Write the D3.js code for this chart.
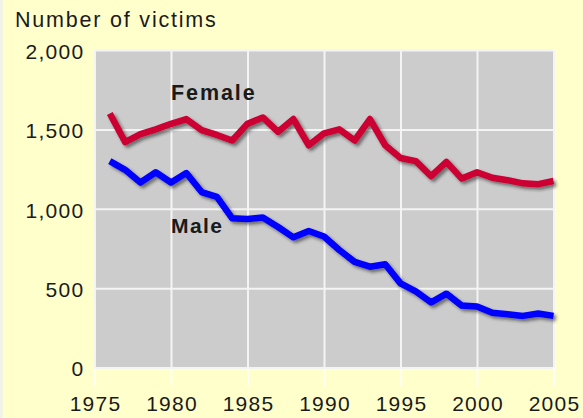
<!DOCTYPE html>
<html>
<head>
<meta charset="utf-8">
<script src="https://cdn.jsdelivr.net/npm/d3@7"></script>
<style>
html,body{margin:0;padding:0;background:#FFFFCC;}
svg{display:block;}
text{font-family:"Liberation Sans",Arial,Helvetica,sans-serif;fill:#1a1a1a;}
</style>
</head>
<body>
<svg id="chart" width="583" height="418"></svg>
<script>
const years = d3.range(1976, 2006);
const female = [1600,1420,1470,1500,1535,1565,1495,1465,1430,1535,1575,1485,1565,1400,1475,1500,1430,1565,1400,1320,1300,1205,1295,1190,1230,1195,1180,1160,1155,1175];
const male = [1300,1245,1165,1230,1165,1225,1105,1075,940,935,945,885,820,860,825,740,665,635,650,530,480,410,465,390,385,345,335,325,340,325];
const xTicks = [1975,1980,1985,1990,1995,2000,2005];
const yTicks = [0,500,1000,1500,2000];
const seriesNames = ["Female","Male"];
const seriesColors = ["#CC0033","#0000FF"];
const title = "Number of victims";

const svg = d3.select("#chart");
const W = 583, H = 418;
svg.append("rect").attr("width", W).attr("height", H).attr("fill", "#FFFFCC");
svg.append("rect").attr("x",0).attr("y",0).attr("width",3).attr("height",H).attr("fill","#F2F2E6");

const x = d3.scaleLinear().domain([1975, 2005]).range([94.5, 553.5]);
const y = d3.scaleLinear().domain([0, 2000]).range([367.5, 50]);

const defs = svg.append("defs");
const f = defs.append("filter").attr("id","shadow").attr("x","-10%").attr("y","-10%").attr("width","120%").attr("height","130%");
f.append("feDropShadow").attr("dx",2.5).attr("dy",2.5).attr("stdDeviation",1.4)
  .attr("flood-color","#222").attr("flood-opacity",0.55);

// plot background
svg.append("rect").attr("x", x(1975)).attr("y", y(2000))
  .attr("width", x(2005)-x(1975)).attr("height", y(0)-y(2000)).attr("fill", "#CCCCCC");

// vertical grid + ticks below
const xAxis = d3.axisBottom(x).tickValues(xTicks).tickFormat(d3.format("d"))
  .tickSize(-(y(0)-y(2000))).tickPadding(26);
const gx = svg.append("g").attr("transform", `translate(0,${y(0)})`).call(xAxis);
gx.select(".domain").remove();
gx.selectAll(".tick line").attr("stroke","#F4F4F4").attr("stroke-width",2);
gx.selectAll(".tick").append("line").attr("y1",0).attr("y2",19).attr("stroke","#FFFFF4").attr("stroke-width",2);
gx.selectAll(".tick text").attr("font-size","21px").attr("letter-spacing","1.3px")
  .attr("fill","#1a1a1a").attr("dy","0").attr("y",43)
  .attr("dx","0.6px");

const yAxis = d3.axisLeft(y).tickValues(yTicks).tickFormat(d3.format(",")).tickSize(-(x(2005)-x(1975))).tickPadding(12);
const gy = svg.append("g").attr("transform", `translate(${x(1975)},0)`).call(yAxis);
gy.select(".domain").remove();
gy.selectAll(".tick line").attr("stroke","#F4F4F4").attr("stroke-width",2);
gy.selectAll(".tick text").attr("font-size","21px").attr("letter-spacing","1.3px")
  .attr("fill","#1a1a1a").attr("x",-10).attr("dy","0.4em");

// lines
const line = d3.line().x((d,i)=>x(years[i])).y(d=>y(d));
[female, male].forEach((s, k) => {
  svg.append("path").datum(s).attr("d", line).attr("fill","none")
    .attr("stroke", seriesColors[k]).attr("stroke-width",6.5)
    .attr("stroke-linejoin","round").attr("stroke-linecap","butt")
    .attr("filter","url(#shadow)");
});

// series labels
svg.append("text").attr("x",171).attr("y",100).attr("font-size","21.5px").attr("font-weight","bold")
  .attr("letter-spacing","1.9px").text(seriesNames[0]);
svg.append("text").attr("x",171).attr("y",233).attr("font-size","21px").attr("font-weight","bold")
  .attr("letter-spacing","1.4px").text(seriesNames[1]);

// title
svg.append("text").attr("x",15).attr("y",27).attr("font-size","21.5px").attr("letter-spacing","1.8px").text(title);
</script>
</body>
</html>
